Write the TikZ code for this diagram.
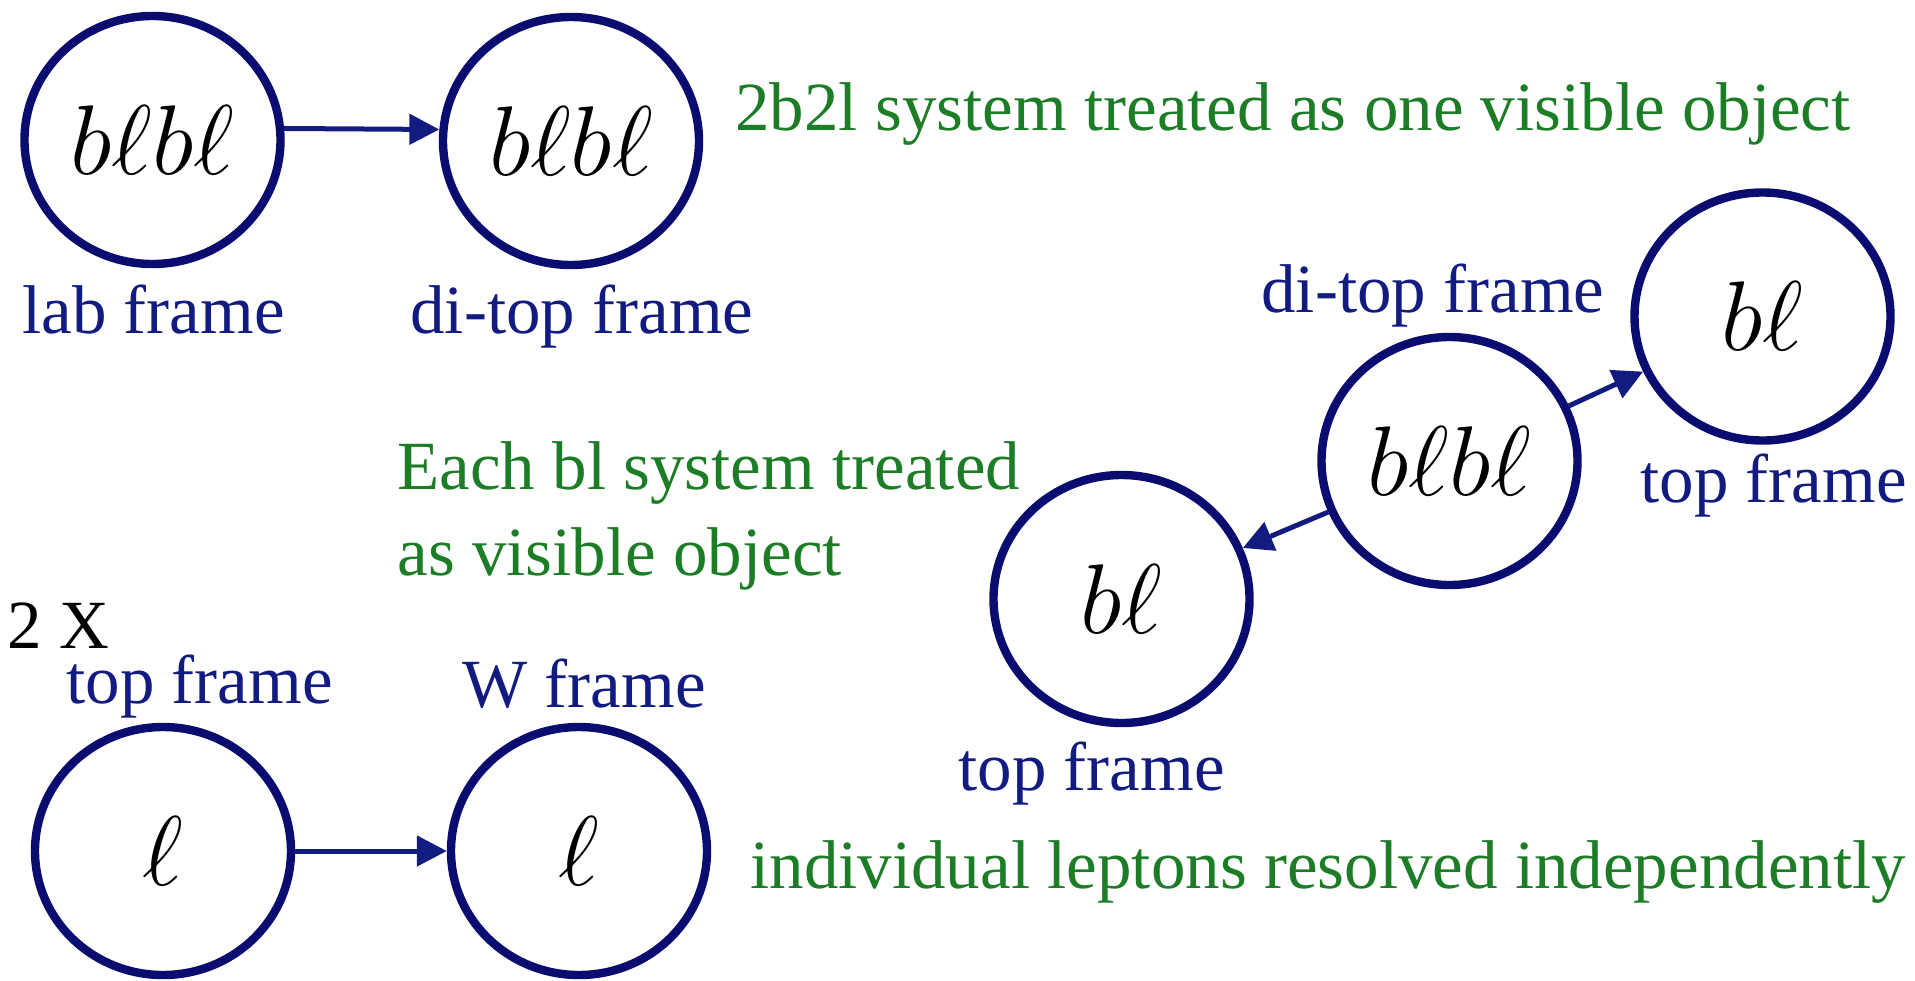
\documentclass[tikz,border=0pt]{standalone}
\usepackage{fix-cm}
\usepackage{fontspec}
\setmainfont{Liberation Serif}
\usetikzlibrary{shapes.geometric,arrows.meta}
\definecolor{ringnavy}{RGB}{10,12,112}
\definecolor{labnavy}{RGB}{18,28,128}
\definecolor{notegreen}{RGB}{28,125,38}
\begin{document}
\begin{tikzpicture}[x=0.5pt,y=-0.5pt,
  frame/.style={ellipse, draw=ringnavy, line width=4.2pt, minimum width=128pt,
    minimum height=124pt, inner sep=0pt, font=\fontsize{49.5}{52}\selectfont},
  lbl/.style={anchor=base west, inner sep=0pt, text=labnavy, font=\fontsize{34.5}{40}\selectfont},
  note/.style={lbl, text=notegreen},
  link/.style={draw=labnavy, line width=2.5pt, -{Triangle[length=15pt,width=15pt]}}]
\useasboundingbox (0,0) rectangle (1915,980);
% nodes
\node[frame] (lab)   at (152.5,140) {$b\ell b\ell$};
\node[frame] (ditop) at (571,141)   {$b\ell b\ell$};
\node[frame] (pair)  at (1449.5,461) {$b\ell b\ell$};
\node[frame] (topR)  at (1762.5,316.5) {$b\ell$};
\node[frame] (topL)  at (1121.5,599) {$b\ell$};
\node[frame] (lepT)  at (163,851) {$\ell$};
\node[frame] (lepW)  at (579,851) {$\ell$};
% labels
\node[lbl] (labtxt)   at (22,333)   {lab frame};
\node[lbl] (dittxt)   at (410,333)  {di-top frame};
\node[note] (note1)   at (735,130)  {2b2l system treated as one visible object};
\node[lbl] (dittxtR)  at (1261,312) {di-top frame};
\node[lbl] (toptxtR)  at (1640,502) {top frame};
\node[note] (note2a)  at (397,489)  {Each bl system treated};
\node[note] (note2b)  at (397,575)  {as visible object};
\node[lbl] (toptxtL)  at (958,790)  {top frame};
\node[lbl, text=black] (twox) at (7,648) {2 X};
\node[lbl] (toptxtB)  at (66,703)   {top frame};
\node[lbl] (wtxt)     at (462,707)  {W frame};
\node[note] (note3)   at (750,888)  {individual leptons resolved independently};
% connectors
\draw[link] (lab.5) -- (ditop.175);
\draw[link] (pair) -- (topR);
\draw[link] (pair) -- (topL);
\draw[link] (lepT) -- (lepW);
\end{tikzpicture}
\end{document}
